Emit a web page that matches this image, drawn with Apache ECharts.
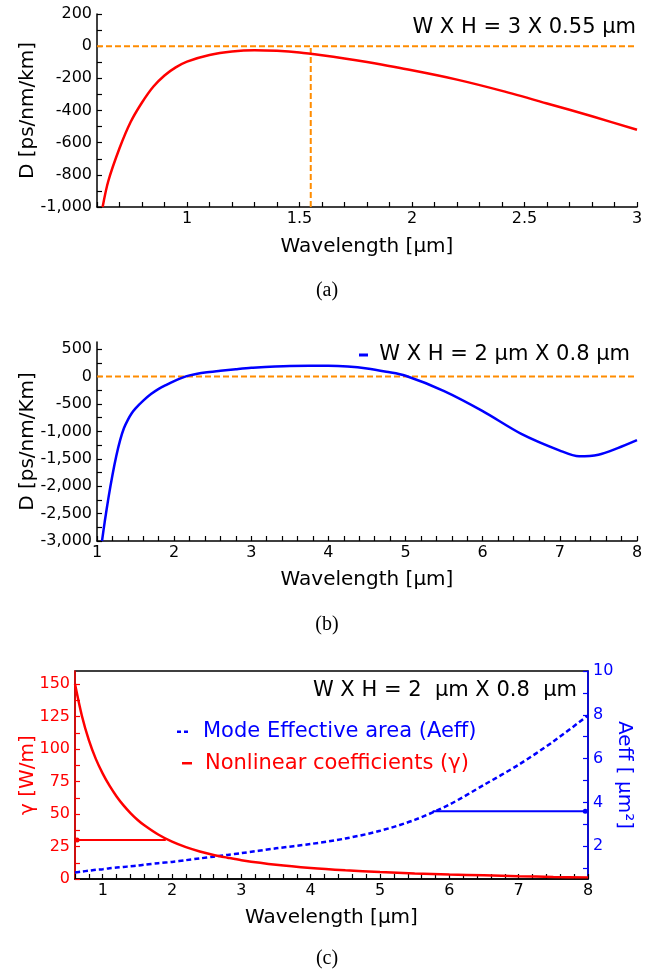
<!DOCTYPE html>
<html><head><meta charset="utf-8">
<script src="https://cdn.jsdelivr.net/npm/echarts@6/dist/echarts.min.js"></script>
<style>html,body{margin:0;padding:0;background:#fff}#c{width:660px;height:976px}</style>
</head><body><div id="c"></div><script>
const FONT = 'DejaVu Sans';
const RED = '#ff0000', BLUE = '#0000ff', ORANGE = '#ff8c00';

// ---------- Panel (a): W x H = 3 x 0.55 µm ----------
const waveA = [0.625,0.65,0.7,0.75,0.8,0.85,0.9,0.95,1.0,1.1,1.2,1.3,1.4,1.5,1.6,1.7,1.8,2.0,2.2,2.4,2.6,2.8,3.0];
const dispA = [-1000,-840,-635,-470,-350,-252,-182,-132,-96,-55,-33,-25,-29,-39,-56,-76,-99,-150,-208,-278,-356,-436,-520];
const zeroLineAX = [0.6, 3];
const zeroLineAY = [0, 0];
const markWaveAX = [1.55, 1.55];
const markWaveAY = [-1000, 0];

// ---------- Panel (b): W x H = 2 µm x 0.8 µm ----------
const waveB = [1.065,1.1,1.15,1.2,1.25,1.3,1.35,1.4,1.45,1.5,1.6,1.7,1.8,1.9,2.0,2.1,2.2,2.3,2.4,2.6,2.8,3.0,3.5,4.0,4.25,4.5,4.75,5.0,5.5,6.0,6.5,7.0,7.25,7.5,7.75,8.0];
const dispB = [-3000,-2650,-2200,-1800,-1450,-1160,-940,-790,-670,-580,-440,-320,-225,-152,-85,-25,22,52,74,105,135,160,192,195,183,148,88,15,-265,-630,-1045,-1350,-1455,-1425,-1305,-1160];
const zeroLineBX = [1, 8];
const zeroLineBY = [0, 0];

// ---------- Panel (c): gamma and Aeff ----------
const waveC = [0.6,0.7,0.8,0.9,1.0,1.1,1.2,1.3,1.4,1.5,1.6,1.8,2.0,2.2,2.4,2.6,2.8,3.0,3.5,4.0,4.5,5.0,5.5,6.0,6.5,7.0,7.5,8.0];
const gammaC = [150,125.4,106.8,92.4,81.1,71.6,63.5,56.6,50.7,45.6,41.3,34.2,28.7,24.5,21.2,18.5,16.4,14.5,11,8.5,6.7,5.3,4.3,3.5,2.8,2.1,1.6,1.25];
const aeffC = [0.8,0.84,0.88,0.92,0.95,0.99,1.02,1.05,1.08,1.11,1.15,1.22,1.28,1.36,1.44,1.52,1.6,1.68,1.9,2.1,2.35,2.7,3.2,3.9,4.8,5.72,6.78,7.97];
const gammaMarkX = [0.63, 1.91];
const gammaMarkY = [30, 30];
const aeffMarkX = [5.76, 7.96];
const aeffMarkY = [3.6, 3.6];

// ---------- tick values / tick labels ----------
function range(a, b, step) { const out = []; const n = Math.round((b - a) / step); for (let i = 0; i <= n; i++) out.push(Math.round((a + i * step) * 1000) / 1000); return out; }
const ticksAX = range(0.6, 3, 0.1);
const labelsAX = [1, 1.5, 2, 2.5, 3];
const ticksAY = range(-1000, 200, 100);
const labelsAY = [-1000, -800, -600, -400, -200, 0, 200];
const ticksBX = range(1, 8, 0.2);
const labelsBX = [1, 2, 3, 4, 5, 6, 7, 8];
const ticksBY = range(-3000, 500, 250);
const labelsBY = [-3000, -2500, -2000, -1500, -1000, -500, 0, 500];
const ticksCX = range(0.6, 8, 0.2);
const labelsCX = [1, 2, 3, 4, 5, 6, 7, 8];
const ticksCYL = range(0, 150, 12.5);
const labelsCYL = [0, 25, 50, 75, 100, 125, 150];
const ticksCYR = [1, 2, 3, 4, 5, 6, 7, 8, 9, 10];
const labelsCYR = [2, 4, 6, 8, 10];

function fmt(v) { return String(v).replace(/\B(?=(\d{3})+(?!\d))/g, ','); }
function pairs(xs, ys) { return xs.map((x, i) => [x, ys[i]]); }

function axis(o) {
  const color = o.color || '#000';
  return {
    type: 'value', gridIndex: o.grid, min: o.min, max: o.max, position: o.position,
    name: o.name, nameLocation: 'middle', nameGap: o.nameGap, nameRotate: o.nameRotate, nameMoveOverlap: false,
    nameTextStyle: { fontFamily: FONT, fontSize: 20, color: color },
    splitLine: { show: false },
    axisLine: { show: true, onZero: false, lineStyle: { color: color, width: 1.5 } },
    axisTick: { show: true, inside: true, length: 5, customValues: o.ticks, lineStyle: { color: color, width: 1.2 } },
    axisLabel: { show: true, customValues: o.labels, formatter: fmt, margin: o.margin || 5, showMinLabel: true, showMaxLabel: true,
      fontFamily: FONT, fontSize: 16, color: color }
  };
}

function line(xi, yi, data, color, width, dash, extra) {
  return Object.assign({
    type: 'line', xAxisIndex: xi, yAxisIndex: yi, data: data, showSymbol: false, symbol: 'none',
    smooth: 0.3, silent: true,
    lineStyle: { color: color, width: width, type: dash || 'solid' }
  }, extra || {});
}

function markLine(xi, yi, xs, ys, color, dotIndex) {
  const data = pairs(xs, ys).map((p, i) => ({ value: p, symbol: 'circle', symbolSize: i === dotIndex ? 5 : 0 }));
  return { type: 'line', xAxisIndex: xi, yAxisIndex: yi, data: data, showSymbol: true, silent: true,
    itemStyle: { color: color }, lineStyle: { color: color, width: 2 } };
}

function label(text, x, y, color, align, size, family) {
  return { type: 'text', x: x, y: y, style: { text: text, font: (size || 21) + 'px ' + (family || FONT), fill: color || '#000',
    align: align, verticalAlign: 'middle', textAlign: align, textVerticalAlign: 'middle' } };
}

const option = {
  animation: false,
  backgroundColor: '#fff',
  textStyle: { fontFamily: FONT },
  grid: [
    { left: 97, right: 23, top: 14, height: 193 },
    { left: 97, right: 23, top: 342, height: 199 },
    { left: 75, right: 72, top: 671, height: 208, show: true, borderColor: '#000', borderWidth: 1.5, backgroundColor: 'transparent' }
  ],
  xAxis: [
    axis({ grid: 0, min: 0.6, max: 3, ticks: ticksAX, labels: labelsAX, name: 'Wavelength [µm]', nameGap: 30, margin: 4 }),
    axis({ grid: 1, min: 1, max: 8, ticks: ticksBX, labels: labelsBX, name: 'Wavelength [µm]', nameGap: 29, margin: 4 }),
    axis({ grid: 2, min: 0.6, max: 8, ticks: ticksCX, labels: labelsCX, name: 'Wavelength [µm]', nameGap: 29, margin: 4 })
  ],
  yAxis: [
    axis({ grid: 0, min: -1000, max: 200, ticks: ticksAY, labels: labelsAY, name: 'D [ps/nm/km]', nameGap: 59 }),
    axis({ grid: 1, min: -3000, max: 630, ticks: ticksBY, labels: labelsBY, name: 'D [ps/nm/Km]', nameGap: 59 }),
    axis({ grid: 2, min: 0, max: 160, ticks: ticksCYL, labels: labelsCYL, name: 'γ [W/m]', nameGap: 37, color: RED }),
    axis({ grid: 2, min: 0.5, max: 10, position: 'right', ticks: ticksCYR, labels: labelsCYR, name: 'Aeff [ µm²]', nameGap: 26, nameRotate: -90, color: BLUE })
  ],
  series: [
    line(0, 0, pairs(zeroLineAX, zeroLineAY), ORANGE, 2, [6, 3], { smooth: false }),
    line(0, 0, pairs(markWaveAX, markWaveAY), ORANGE, 2, [6, 3], { smooth: false }),
    line(0, 0, pairs(waveA, dispA), RED, 2.5),
    line(1, 1, pairs(zeroLineBX, zeroLineBY), ORANGE, 2, [6, 3], { smooth: false }),
    line(1, 1, pairs(waveB, dispB), BLUE, 2.5, 'solid', { name: 'W X H = 2 µm X 0.8 µm' }),
    line(2, 3, pairs(waveC, aeffC), BLUE, 2.5, [5, 3], { name: 'Mode Effective area (Aeff)' }),
    line(2, 2, pairs(waveC, gammaC), RED, 2.5, 'solid', { name: 'Nonlinear coefficients (γ)' }),
    markLine(2, 2, gammaMarkX, gammaMarkY, RED, 0),
    markLine(2, 3, aeffMarkX, aeffMarkY, BLUE, 1)
  ],
  graphic: [
    label('W X H = 3 X 0.55 µm', 636, 28, '#000', 'right'),
    { type: 'rect', shape: { x: 359, y: 353.5, width: 9, height: 3 }, style: { fill: BLUE } },
    label('W X H = 2 µm X 0.8 µm', 630, 355, '#000', 'right'),
    label('W X H = 2  µm X 0.8  µm', 577, 691, '#000', 'right'),
    { type: 'rect', shape: { x: 177, y: 730.5, width: 4, height: 2.5 }, style: { fill: BLUE } },
    { type: 'rect', shape: { x: 184, y: 730.5, width: 4, height: 2.5 }, style: { fill: BLUE } },
    label('Mode Effective area (Aeff)', 203, 731.5, BLUE, 'left'),
    { type: 'rect', shape: { x: 182, y: 762, width: 10, height: 2.5 }, style: { fill: RED } },
    label('Nonlinear coefficients (γ)', 205, 763.5, RED, 'left'),
    label('(a)', 327, 291, '#000', 'center', 20, '"Liberation Serif"'),
    label('(b)', 327, 625, '#000', 'center', 20, '"Liberation Serif"'),
    label('(c)', 327, 959, '#000', 'center', 20, '"Liberation Serif"')
  ]
};
const chart = echarts.init(document.getElementById('c'), null, { renderer: 'canvas', width: 660, height: 976 });
chart.setOption(option);
</script></body></html>
